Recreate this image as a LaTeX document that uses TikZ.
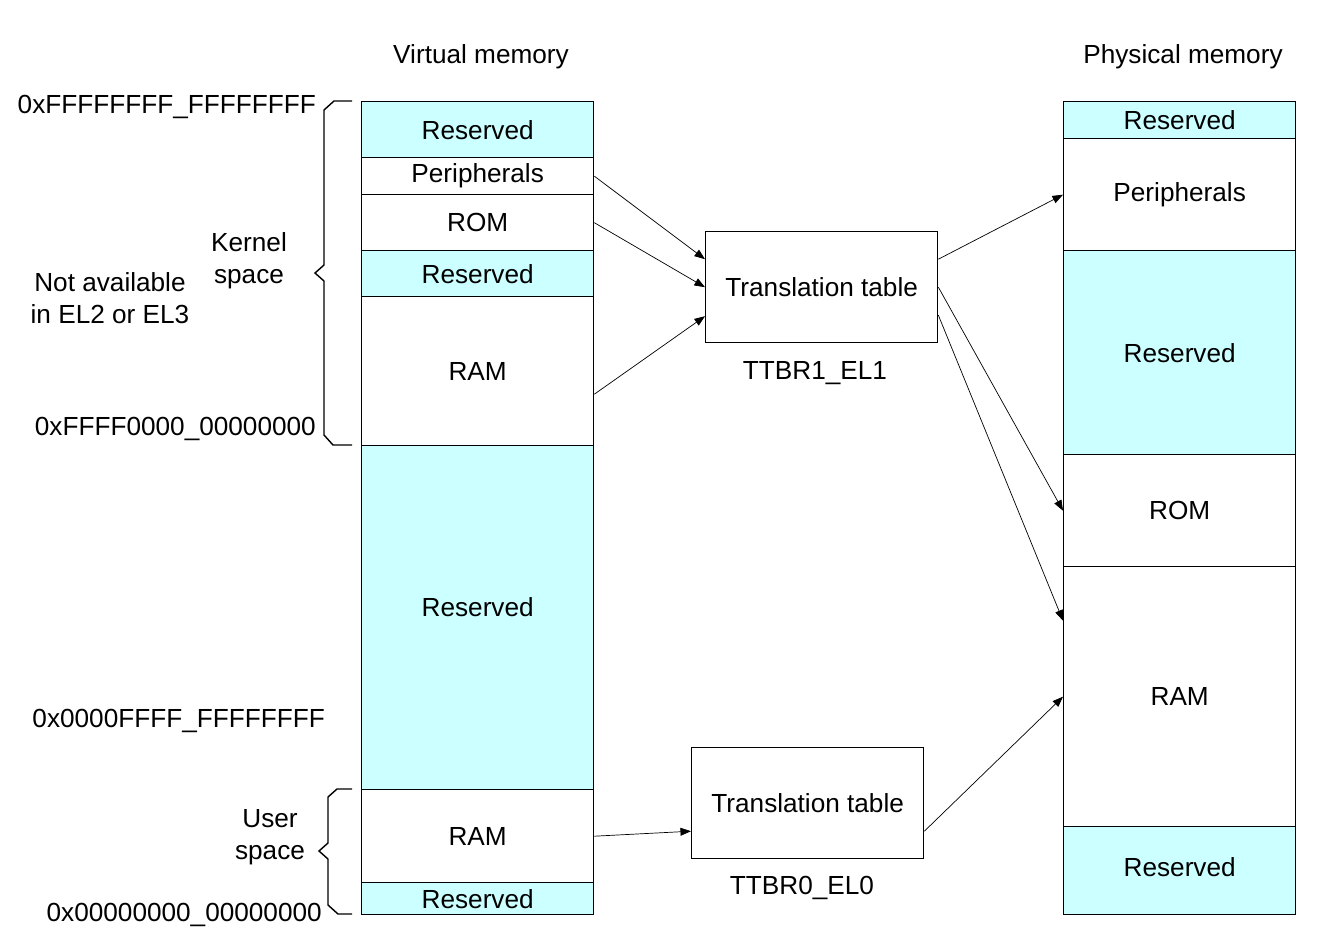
\documentclass[tikz,border=0pt]{standalone}
\usepackage{fontspec}
\setmainfont{Liberation Sans}
\usepackage{tikz}
\usetikzlibrary{positioning,calc,arrows.meta}
\definecolor{resv}{HTML}{CCFFFF}

\tikzset{
  mem/.style={draw, line width=0.8pt, minimum width=4.64cm, inner sep=0pt, anchor=north west},
  res/.style={mem, fill=resv},
  tbl/.style={draw, line width=0.8pt, minimum width=4.64cm, minimum height=2.22cm, inner sep=0pt, anchor=north west},
  map/.style={line width=0.4pt, -{Triangle[length=6pt,width=4.5pt]}},
  brace/.style={line width=0.8pt},
  lbl/.style={align=center}
}

\begin{document}
\begin{tikzpicture}[x=0.02cm, y=-0.02cm, font=\fontsize{14.9}{18}\selectfont]
    \useasboundingbox (0,0) rectangle (1340,948);
    % headings
    \node (vhead) at (481,57) {Virtual memory};
    \node (phead) at (1183,57) {Physical memory};
    % virtual memory
    \node[res, minimum height=1.12cm] (vres1) at (361,101) {Reserved};
    \node[mem, minimum height=0.74cm] (vper) at (361,157) {Peripherals};
    \node[mem, minimum height=1.12cm] (vrom) at (361,194) {ROM};
    \node[res, minimum height=0.92cm] (vres2) at (361,250) {Reserved};
    \node[mem, minimum height=2.98cm] (vram1) at (361,296) {RAM};
    \node[res, minimum height=6.88cm, text depth=0.44cm] (vres3) at (361,445) {Reserved};
    \node[mem, minimum height=1.86cm] (vram2) at (361,789) {RAM};
    \node[res, minimum height=0.64cm] (vres4) at (361,882) {Reserved};
    % physical memory
    \node[res, minimum height=0.74cm] (pres1) at (1063,101) {Reserved};
    \node[mem, minimum height=2.24cm] (pper) at (1063,138) {Peripherals};
    \node[res, minimum height=4.08cm] (pres2) at (1063,250) {Reserved};
    \node[mem, minimum height=2.24cm] (prom) at (1063,454) {ROM};
    \node[mem, minimum height=5.2cm] (pram) at (1063,566) {RAM};
    \node[res, minimum height=1.76cm, text depth=0.16cm] (pres3) at (1063,826) {Reserved};
    % translation tables
    \node[tbl] (tt1) at (705,231) {Translation table};
    \node (ttbr1) at (815,373) {TTBR1\_EL1};
    \node[tbl] (tt0) at (691,747) {Translation table};
    \node (ttbr0) at (802,888) {TTBR0\_EL0};
    % addresses
    \node[anchor=east] (atop) at (322,107) {0xFFFFFFFF\_FFFFFFFF};
    \node[anchor=east] (akern) at (322,429) {0xFFFF0000\_00000000};
    \node[anchor=east] (auser) at (331,721) {0x0000FFFF\_FFFFFFFF};
    \node[anchor=east] (azero) at (328,915) {0x00000000\_00000000};
    % braces
    \draw[brace] (352,101) -- (334,101) -- (324,110) -- (324,265) -- (315,273)
        -- (324,281) -- (324,435) -- (333,445) -- (352,445);
    \draw[brace] (352,789) -- (337,789) -- (328,797) -- (328,843) -- (319,851)
        -- (328,859) -- (328,905) -- (338,914) -- (352,914);
    \node[lbl] (kspace) at (249,261) {Kernel\\space};
    \node[lbl] (noel) at (110,298) {Not available\\in EL2 or EL3};
    \node[lbl] (uspace) at (270,837) {User\\space};
    % mappings
    \draw[map] (vper.east) -- ($(tt1.west)+(0,-28)$);
    \draw[map] (vrom.east) -- (tt1.west);
    \draw[map] ($(vram1.east)+(0,23)$) -- ($(tt1.west)+(0,29)$);
    \draw[map] ($(tt1.east)+(0,-28)$) -- (pper.west);
    \draw[map] (tt1.east) -- (prom.west);
    \draw[map] ($(tt1.east)+(0,28)$) -- ($(pram.west)+(0,-76)$);
    \draw[map] (vram2.east) -- ($(tt0.west)+(0,28)$);
    \draw[map] ($(tt0.east)+(0,28)$) -- (pram.west);
\end{tikzpicture}
\end{document}
